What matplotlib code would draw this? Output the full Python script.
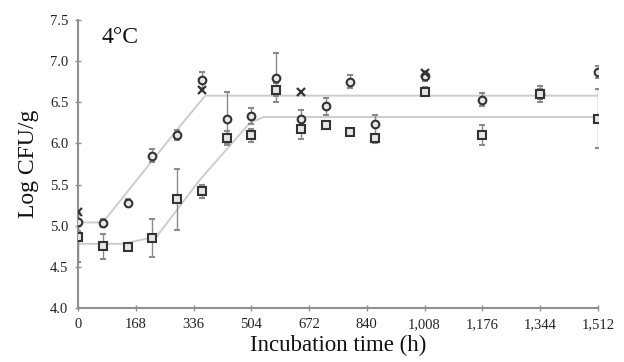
import matplotlib
matplotlib.use("Agg")
import matplotlib.pyplot as plt

# Observed data (hours, log CFU/g, error)
hours = [0, 72, 144, 216, 288, 360, 432, 504, 576, 648, 720, 792, 864, 1008, 1176, 1344, 1512]
circle_vals = [5.04, 5.03, 5.28, 5.85, 6.10, 6.77, 6.30, 6.33, 6.80, 6.30, 6.45, 6.75, 6.23, 6.82, 6.53, 6.60, 6.87]
circle_err = [0.10, 0.05, 0.04, 0.08, 0.06, 0.10, 0.32, 0.10, 0.30, 0.10, 0.10, 0.08, 0.12, 0.06, 0.08, 0.06, 0.07]
square_vals = [4.86, 4.75, 4.74, 4.85, 5.32, 5.42, 6.07, 6.10, 6.65, 6.17, 6.22, 6.14, 6.06, 6.63, 6.10, 6.60, 6.30]
square_err = [0.30, 0.15, 0.04, 0.23, 0.37, 0.08, 0.08, 0.08, 0.08, 0.12, 0.05, 0.05, 0.05, 0.05, 0.12, 0.10, 0.36]
cross_hours = [0, 360, 648, 1008]
cross_vals = [5.17, 6.65, 6.63, 6.86]

# Fitted model lines (knots)
fit_c_h = [0, 72, 287, 370, 1512]
fit_c_v = [5.04, 5.04, 6.16, 6.58, 6.58]
fit_s_h = [0, 130, 229, 355, 500, 540, 1512]
fit_s_v = [4.78, 4.78, 4.87, 5.56, 6.25, 6.32, 6.32]

xticks = [0, 168, 336, 504, 672, 840, 1008, 1176, 1344, 1512]
xtick_labels = ["0", "168", "336", "504", "672", "840", "1,008", "1,176", "1,344", "1,512"]
yticks = [4.0, 4.5, 5.0, 5.5, 6.0, 6.5, 7.0, 7.5]

plt.rcParams['font.family'] = ['Liberation Serif', 'DejaVu Serif']

fig = plt.figure(figsize=(6.24, 3.62), dpi=100)
ax = fig.add_axes([0.125, 0.149, 0.833, 0.796])

line_col = '#cdcdcd'
ax.plot(fit_c_h, fit_c_v, color=line_col, lw=1.4, zorder=1)
ax.plot(fit_s_h, fit_s_v, color=line_col, lw=1.4, zorder=1)

ax.errorbar(hours, circle_vals, yerr=circle_err, fmt='o', ms=5.5, mfc='#e6e6e6', mec='#333333',
            mew=1.5, ecolor='#8a8a8a', elinewidth=1.0, capsize=2, capthick=0.8, zorder=3)
ax.errorbar(hours, square_vals, yerr=square_err, fmt='s', ms=6, mfc='#e6e6e6', mec='#333333',
            mew=1.5, ecolor='#8a8a8a', elinewidth=1.0, capsize=2, capthick=0.8, zorder=3)
ax.plot(cross_hours, cross_vals, 'x', ms=5.5, mew=1.6, color='#333333', zorder=4)

ax.set_xlim(0, 1512)
ax.set_ylim(4.0, 7.5)
ax.set_xticks(xticks)
ax.set_xticklabels(xtick_labels)
ax.set_yticks(yticks)
ax.set_yticklabels([f"{v:.1f}" for v in yticks])

for s in ['top', 'right']:
    ax.spines[s].set_visible(False)
for s in ['left', 'bottom']:
    ax.spines[s].set_color('#909090')
    ax.spines[s].set_linewidth(1.5)
ax.tick_params(axis='both', direction='inout', length=4, width=1, color='#909090',
               labelsize=10.5, labelcolor='#222222')
ax.tick_params(axis='x', pad=5)
ax.tick_params(axis='y', pad=5)

ax.set_xlabel("Incubation time (h)", fontsize=16.5, color='#111111', labelpad=3)
ax.set_ylabel("Log CFU/g", fontsize=17, color='#111111', labelpad=8)
ax.text(0.045, 0.975, "4°C", transform=ax.transAxes, fontsize=17, va='top', ha='left', color='#111111')

fig.savefig("out.png", dpi=100)
